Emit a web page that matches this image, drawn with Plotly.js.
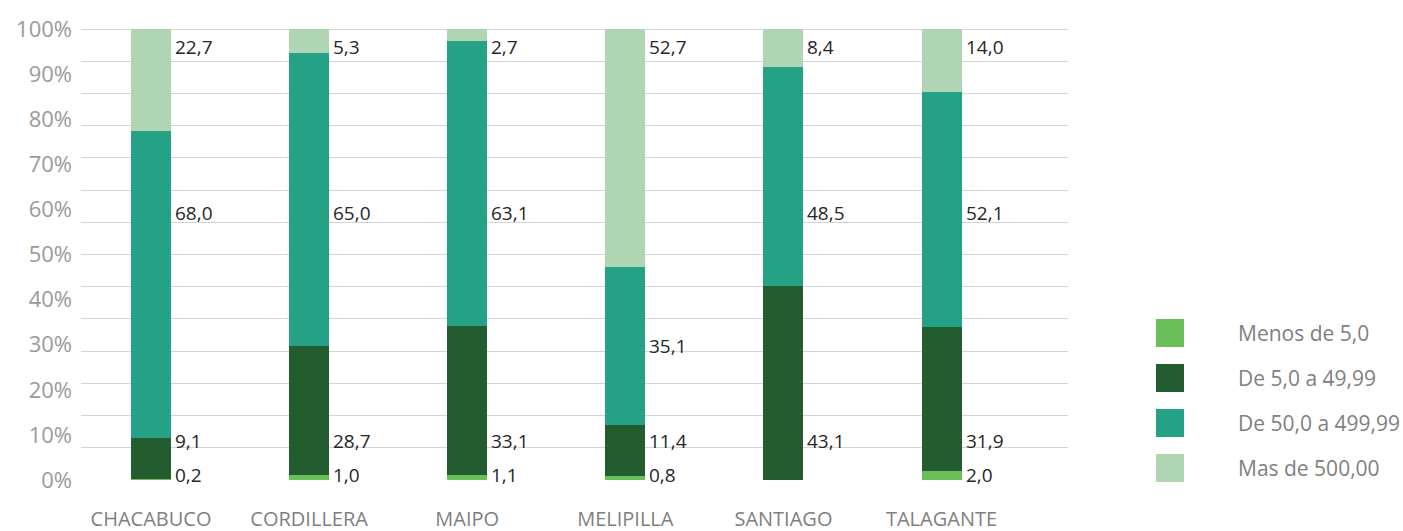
<!DOCTYPE html>
<html>
<head>
<meta charset="utf-8">
<script src="https://cdn.plot.ly/plotly-3.0.1.min.js"></script>
<style>html,body{margin:0;padding:0;background:#fff;}#chart{width:1403px;height:531px;}</style>
</head>
<body>
<div id="chart"></div>
<script>
// ---- data ----
const categories = ['CHACABUCO', 'CORDILLERA', 'MAIPO', 'MELIPILLA', 'SANTIAGO', 'TALAGANTE'];
const seriesNames = ['Menos de 5,0', 'De 5,0 a 49,99', 'De 50,0 a 499,99', 'Mas de 500,00'];
const menos5 = [0.2, 1.0, 1.1, 0.8, 0.0, 2.0];
const de5a49 = [9.1, 28.7, 33.1, 11.4, 43.1, 31.9];
const de50a499 = [68.0, 65.0, 63.1, 35.1, 48.5, 52.1];
const mas500 = [22.7, 5.3, 2.7, 52.7, 8.4, 14.0];
const yTickValues = [0, 10, 20, 30, 40, 50, 60, 70, 80, 90, 100];
const yTickLabels = ['0%', '10%', '20%', '30%', '40%', '50%', '60%', '70%', '80%', '90%', '100%'];

// ---- styles ----
const colors = ['#6BBF59', '#235C2F', '#25A285', '#B0D5B3'];
const labelLevels = [1.2, 8.6, 59.2, 96];
const seriesValues = [menos5, de5a49, de50a499, mas500];
const fontFam = '"Open Sans", "Noto Sans", sans-serif';
const yRange = [0, 100.25];

const traces = seriesValues.map((vals, i) => ({
  type: 'bar',
  name: seriesNames[i],
  x: categories,
  y: vals,
  width: 0.253,
  marker: {color: colors[i], line: {width: 0}},
  hoverinfo: 'x+y+name',
  showlegend: false
}));
// carrier so the percent-label axis gets drawn (no visible marks)
traces.push({type: 'scatter', mode: 'none', x: [], y: [], yaxis: 'y2', showlegend: false, hoverinfo: 'skip'});

// data labels
const annotations = [];
const base = categories.map(() => 0);
seriesValues.forEach((vals, i) => {
  vals.forEach((v, j) => {
    const b = base[j], t = b + v;
    if (v > 0) {
      let y = labelLevels[i];
      if ((y < b || y > t) && v >= 10) y = (b + t) / 2;
      annotations.push({
        x: categories[j], y: y, xref: 'x', yref: 'y',
        text: v.toFixed(1).replace('.', ','),
        showarrow: false, xanchor: 'left', yanchor: 'middle', xshift: 22,
        font: {family: fontFam, size: 19, color: '#262626'}
      });
    }
    base[j] = t;
  });
});

// manual legend (large swatches)
const shapes = [];
const plotL = 81, plotR = 1068, plotT = 28, plotB = 480;
const pw = plotR - plotL, ph = plotB - plotT;
seriesNames.forEach((name, i) => {
  const cy = 333 + 45 * i;
  shapes.push({
    type: 'rect', xref: 'paper', yref: 'paper',
    x0: (1156 - plotL) / pw, x1: (1184 - plotL) / pw,
    y0: (plotB - (cy + 14)) / ph, y1: (plotB - (cy - 14)) / ph,
    fillcolor: colors[i], line: {width: 0}
  });
  annotations.push({
    xref: 'paper', yref: 'paper',
    x: (1236 - plotL) / pw, y: (plotB - cy) / ph,
    text: name, showarrow: false, xanchor: 'left', yanchor: 'middle',
    font: {family: fontFam, size: 21, color: '#808080'}
  });
});

const gridVals = [];
for (let k = 0; k <= 14; k++) gridVals.push(k * 100 / 14);

const layout = {
  width: 1403, height: 531,
  margin: {l: plotL, r: 1403 - plotR, t: plotT, b: 531 - plotB, pad: 0},
  paper_bgcolor: '#ffffff', plot_bgcolor: '#ffffff',
  barmode: 'stack',
  showlegend: false,
  font: {family: fontFam},
  xaxis: {
    type: 'category', range: [-0.443, 5.80],
    showgrid: false, zeroline: false, showline: false, ticks: '',
    ticklabelstandoff: 25,
    tickfont: {family: fontFam, size: 20, color: '#7F7F7F'},
    fixedrange: true
  },
  yaxis: {
    range: yRange, tickvals: gridVals, showticklabels: false,
    showgrid: true, gridcolor: '#D4D4D4', gridwidth: 1,
    zeroline: false, showline: false, ticks: '', fixedrange: true
  },
  yaxis2: {
    type: 'linear',
    overlaying: 'y', anchor: 'x', side: 'left',
    range: yRange, tickmode: 'array', tickvals: yTickValues, ticktext: yTickLabels,
    showgrid: false, zeroline: false, showline: false, ticks: '',
    ticklabelstandoff: 8,
    tickfont: {family: fontFam, size: 22, color: '#9A9A9A'},
    fixedrange: true
  },
  annotations: annotations,
  shapes: shapes
};

Plotly.newPlot('chart', traces, layout, {displayModeBar: false, staticPlot: true});
</script>
</body>
</html>
